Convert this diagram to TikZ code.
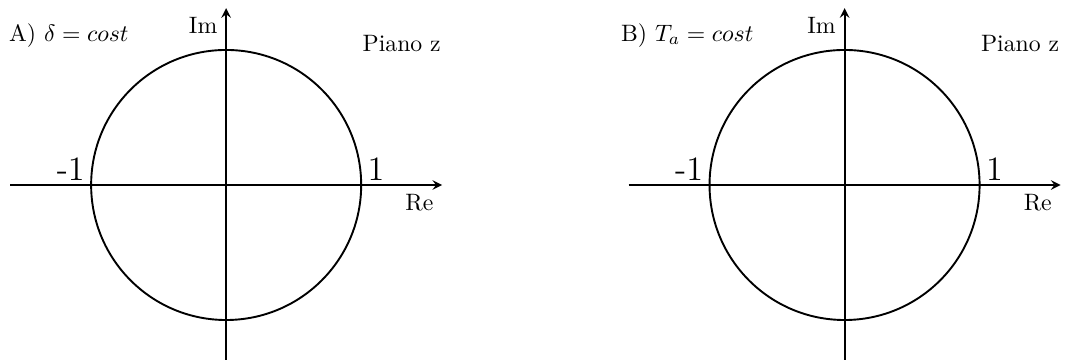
\documentclass[tikz,border=0pt]{standalone}
\usepackage{amsmath}
\usepackage{tikz}
\usetikzlibrary{arrows, positioning}

\begin{document}
\begin{tikzpicture}[thick, >=stealth]
        \useasboundingbox (-3.35,-2.59) rectangle (12.44,2.74);

        % Panel A
        \coordinate (oA) at (0,0);
        \coordinate (wA) at (-3.2,0);
        \coordinate (eA) at (3.2,0);
        \coordinate (sA) at (0,-2.62);
        \coordinate (nA) at (0,2.62);
        \coordinate (pA) at (2,0);
        \coordinate (mA) at (-2,0);
        \draw (oA) circle (2cm);
        \draw[->] (wA) -- (eA);
        \draw[->] (sA) -- (nA);
        \node (reA) [below left=0pt and 0pt of eA] {Re};
        \node (imA) [below left=0pt and 0pt of nA] {Im};
        \node (oneA) [above right=-2pt and -1pt of pA] {\Large 1};
        \node (moneA) [above left=-2pt and -1pt of mA] {\Large -1};
        \node (titleA) at (-2.33,2.22) {A) $\delta = cost$};
        \node (pianoA) at (2.6,2.1) {Piano z};

        % Panel B
        \coordinate (oB) at (9.16,0);
        \coordinate (wB) at (5.96,0);
        \coordinate (eB) at (12.36,0);
        \coordinate (sB) at (9.16,-2.62);
        \coordinate (nB) at (9.16,2.62);
        \coordinate (pB) at (11.16,0);
        \coordinate (mB) at (7.16,0);
        \draw (oB) circle (2cm);
        \draw[->] (wB) -- (eB);
        \draw[->] (sB) -- (nB);
        \node (reB) [below left=0pt and 0pt of eB] {Re};
        \node (imB) [below left=0pt and 0pt of nB] {Im};
        \node (oneB) [above right=-2pt and -1pt of pB] {\Large 1};
        \node (moneB) [above left=-2pt and -1pt of mB] {\Large -1};
        \node (titleB) at (6.83,2.22) {B) $T_a = cost$};
        \node (pianoB) at (11.76,2.1) {Piano z};
\end{tikzpicture}
\end{document}
